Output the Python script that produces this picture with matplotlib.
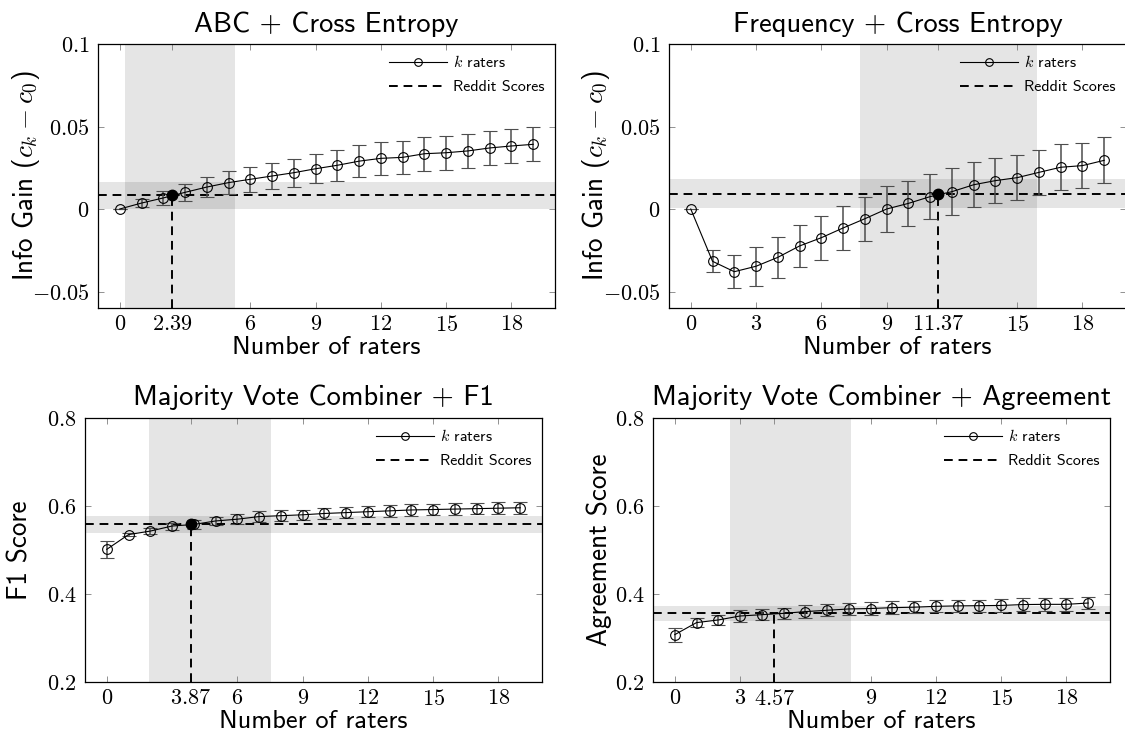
import matplotlib
matplotlib.use("Agg")
import matplotlib.pyplot as plt
from matplotlib.lines import Line2D

plt.rcParams["mathtext.fontset"] = "cm"
plt.rcParams["font.family"] = ["cmss10", "DejaVu Sans"]
plt.rcParams["axes.unicode_minus"] = False

# ---- data ----
raters = list(range(20))

abc_gain = [0.0, 0.0036, 0.0067, 0.0101, 0.0133, 0.016, 0.018, 0.020, 0.022, 0.0244,
            0.0265, 0.029, 0.0307, 0.0313, 0.0335, 0.0341, 0.0352, 0.037, 0.0382, 0.0392]
abc_err = [0.0, 0.0022, 0.004, 0.0053, 0.006, 0.007, 0.0077, 0.0079, 0.0085, 0.0087,
           0.0094, 0.0095, 0.0099, 0.0101, 0.0103, 0.0102, 0.0102, 0.0104, 0.0104, 0.0104]

freq_gain = [0.0, -0.0317, -0.038, -0.0347, -0.0293, -0.0224, -0.0174, -0.0115, -0.0059, 0.0,
             0.0034, 0.0075, 0.0105, 0.0147, 0.0172, 0.019, 0.0222, 0.0253, 0.0263, 0.0295]
freq_err = [0.0, 0.0067, 0.0101, 0.0117, 0.0126, 0.013, 0.0134, 0.0131, 0.0133, 0.0138,
            0.0138, 0.0137, 0.0141, 0.0137, 0.0137, 0.0138, 0.0138, 0.0138, 0.0137, 0.014]

f1_score = [0.5015, 0.535, 0.543, 0.5545, 0.558, 0.566, 0.570, 0.576, 0.578, 0.580,
            0.583, 0.585, 0.587, 0.589, 0.591, 0.592, 0.593, 0.594, 0.595, 0.596]
f1_err = [0.019, 0.004, 0.006, 0.008, 0.011, 0.01, 0.011, 0.012, 0.012, 0.012,
          0.012, 0.013, 0.013, 0.013, 0.013, 0.013, 0.013, 0.013, 0.013, 0.014]

agree_score = [0.3076, 0.335, 0.341, 0.35, 0.353, 0.356, 0.36, 0.363, 0.366, 0.367,
               0.369, 0.370, 0.372, 0.373, 0.3735, 0.374, 0.376, 0.3765, 0.3765, 0.3795]
agree_err = [0.016, 0.011, 0.012, 0.013, 0.013, 0.013, 0.014, 0.014, 0.014, 0.014,
             0.014, 0.014, 0.014, 0.014, 0.014, 0.014, 0.014, 0.014, 0.014, 0.014]

titles = ["ABC + Cross Entropy", "Frequency + Cross Entropy",
          "Majority Vote Combiner + F1", "Majority Vote Combiner + Agreement"]
ylabels = [r"Info Gain ($c_k - c_0$)", r"Info Gain ($c_k - c_0$)", "F1 Score", "Agreement Score"]

reddit_level = [0.0085, 0.0091, 0.558, 0.356]
reddit_band = [(0.0, 0.0162), (0.0008, 0.018), (0.538, 0.5765), (0.339, 0.372)]
crossing = [2.39, 11.37, 3.87, 4.57]
crossing_band = [(0.23, 5.28), (7.76, 15.93), (1.92, 7.53), (2.56, 8.11)]
show_dot = [True, True, True, False]

xticks = [[0, 2.39, 6, 9, 12, 15, 18],
          [0, 3, 6, 9, 11.37, 15, 18],
          [0, 3.87, 6, 9, 12, 15, 18],
          [0, 3, 4.57, 9, 12, 15, 18]]
gain_yticks = [-0.05, 0, 0.05, 0.1]
gain_ylabels = ["$-0.05$", "$0$", "$0.05$", "$0.1$"]
score_yticks = [0.2, 0.4, 0.6, 0.8]
score_ylabels = ["$0.2$", "$0.4$", "$0.6$", "$0.8$"]

series = [(abc_gain, abc_err), (freq_gain, freq_err), (f1_score, f1_err), (agree_score, agree_err)]

# ---- layout in pixels ----
W, H = 1125, 738
fig = plt.figure(figsize=(W / 100, H / 100), dpi=100)
boxes = [(98, 44, 457, 264), (669, 44, 457, 264), (85, 418, 457, 264), (653, 418, 457, 264)]
axes = [fig.add_axes([l / W, 1 - (t + h) / H, w / W, h / H]) for l, t, w, h in boxes]
ylabel_x = [-0.122, -0.124, -0.114, -0.09]

for i, ax in enumerate(axes):
    vals, err = series[i]
    if i < 2:
        ax.set_ylim(-0.06, 0.1)
        ax.set_yticks(gain_yticks, labels=gain_ylabels)
    else:
        ax.set_ylim(0.2, 0.8)
        ax.set_yticks(score_yticks, labels=score_ylabels)
    ax.set_xlim(-1, 20)

    # shaded confidence bands
    ax.axhspan(*reddit_band[i], color="black", alpha=0.1, lw=0, zorder=0)
    ax.axvspan(*crossing_band[i], color="black", alpha=0.1, lw=0, zorder=0)

    # reddit reference line and crossing
    ax.axhline(reddit_level[i], color="black", lw=1.4, ls=(0, (4.5, 3)), zorder=2)
    ax.vlines(crossing[i], ax.get_ylim()[0], reddit_level[i], color="black",
              lw=1.4, ls=(0, (4.5, 3)), zorder=2)

    ax.errorbar(raters, vals, yerr=err, fmt="-o", color="black", lw=0.8, ms=7,
                mfc="none", mew=0.8, ecolor="#4d4d4d", elinewidth=1.1,
                capsize=5, capthick=1.1, zorder=3)
    if show_dot[i]:
        ax.plot([crossing[i]], [reddit_level[i]], "o", color="black", ms=7.5, zorder=4)

    ax.set_xticks(xticks[i], labels=[f"${t:g}$" for t in xticks[i]])
    ax.tick_params(direction="in", top=True, right=True, length=4.5, width=0.6,
                   color="#808080", labelsize=16, pad=6)
    ax.tick_params(axis="x", pad=5)
    for sp in ax.spines.values():
        sp.set_linewidth(0.9)

    ax.set_title(titles[i], fontsize=20.5, pad=9)
    ax.set_xlabel("Number of raters", fontsize=19, labelpad=0.5)
    ax.set_ylabel(ylabels[i], fontsize=19.5)
    ax.yaxis.set_label_coords(ylabel_x[i], 0.5)

    handles = [Line2D([], [], color="black", lw=0.8, marker="o", ms=5.5, mfc="none", mew=0.8),
               Line2D([], [], color="black", lw=1.4, ls=(0, (4.5, 3)))]
    ax.legend(handles, [r"$k$ raters", "Reddit Scores"], loc="upper right",
              frameon=False, fontsize=11.5, handlelength=3.6, borderaxespad=0.25,
              labelspacing=0.6, handletextpad=0.4)

fig.savefig("out.png", dpi=100)
